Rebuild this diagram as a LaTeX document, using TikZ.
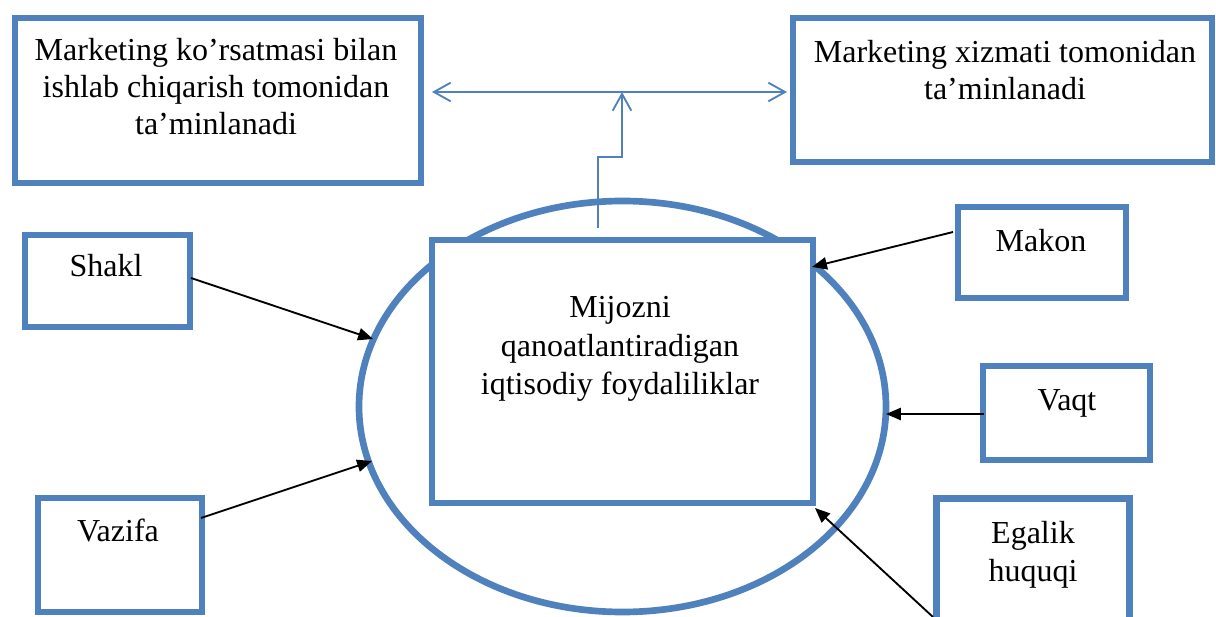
\documentclass[tikz,border=0pt]{standalone}
\usepackage{fontspec}
\setmainfont{Liberation Serif}
\usetikzlibrary{shapes.geometric,arrows.meta}
\definecolor{wblue}{HTML}{4F81BD}
\begin{document}
\begin{tikzpicture}[x=0.375pt,y=-0.375pt,
  sized/.style 2 args={minimum width=#1*0.375pt,minimum height=#2*0.375pt,inner sep=0pt},
  box/.style={draw=wblue,line width=2.5pt,fill=white},
  txt/.style={font=\fontsize{12}{14}\selectfont,align=center,inner sep=0pt,anchor=base},
  wide/.style={font=\fontsize{12}{14.6}\selectfont},
  link/.style={draw=wblue,line width=0.7pt},
  openhead/.style={{Straight Barb[length=6.3pt,width=7pt]}-{Straight Barb[length=6.3pt,width=7pt]}},
  openone/.style={-{Straight Barb[length=6.3pt,width=7pt]}},
  pointer/.style={-{Triangle[length=5.6pt,width=4.6pt]},line width=0.7pt,draw=black}]
\useasboundingbox (0,0) rectangle (1216,617);
\clip (0,0) rectangle (1216,617);

% boxes
\node[box,sized={406}{165}] (tl) at (218,100.5) {};
\node[box,sized={419}{144}] (tr) at (1002.5,90) {};
\node[box,sized={165}{92}] (shakl) at (107.5,281) {};
\node[box,sized={164}{114}] (vazifa) at (120,555) {};
\node[box,sized={168}{91}] (makon) at (1042,252.5) {};
\node[box,sized={167}{94}] (vaqt) at (1066.5,413) {};
\node[box,sized={193}{131.5}] (egalik) at (1033,564.25) {};
\node[draw=wblue,line width=2.5pt,ellipse,sized={527}{411}] (oval) at (622.5,406.5) {};
\node[box,line width=2.3pt,sized={381}{263}] (inner) at (622.5,371.5) {};

% texts (base = baseline of the last line)
\node[txt] (tltxt) at (216,135) {Marketing ko’rsatmasi bilan\\ishlab chiqarish tomonidan\\ta’minlanadi};
\node[txt] (trtxt) at (1005,100) {Marketing xizmati tomonidan\\ta’minlanadi};
\node[txt] (shakltxt) at (106,277) {Shakl};
\node[txt] (vazifatxt) at (118,542) {Vazifa};
\node[txt] (makontxt) at (1041,252) {Makon};
\node[txt] (vaqttxt) at (1067,410) {Vaqt};
\node[txt,wide] (egaliktxt) at (1033,582) {Egalik\\huquqi};
\node[txt,wide] (innertxt) at (620,395) {Mijozni\\qanoatlantiradigan\\iqtisodiy foydaliliklar};

% blue connectors
\coordinate (hl) at (432,92);
\coordinate (hr) at (787,92);
\coordinate (hm) at (622,92);
\coordinate (stem) at (598,228);
\draw[link,openhead] (hl) -- (hr);
\draw[link,openone] (stem) -- (598,157) -| (hm);

% black pointers
\coordinate (s1) at (191,278);  \coordinate (e1) at (373,339);
\coordinate (s2) at (201,518);  \coordinate (e2) at (372,461);
\coordinate (s3) at (953,232);  \coordinate (e3) at (812,267);
\coordinate (s4) at (984,414);  \coordinate (e4) at (886,414);
\coordinate (s5) at (933,617);  \coordinate (e5) at (815,508);
\draw[pointer] (s1) -- (e1);
\draw[pointer] (s2) -- (e2);
\draw[pointer] (s3) -- (e3);
\draw[pointer] (s4) -- (e4);
\draw[pointer] (s5) -- (e5);
\end{tikzpicture}
\end{document}
